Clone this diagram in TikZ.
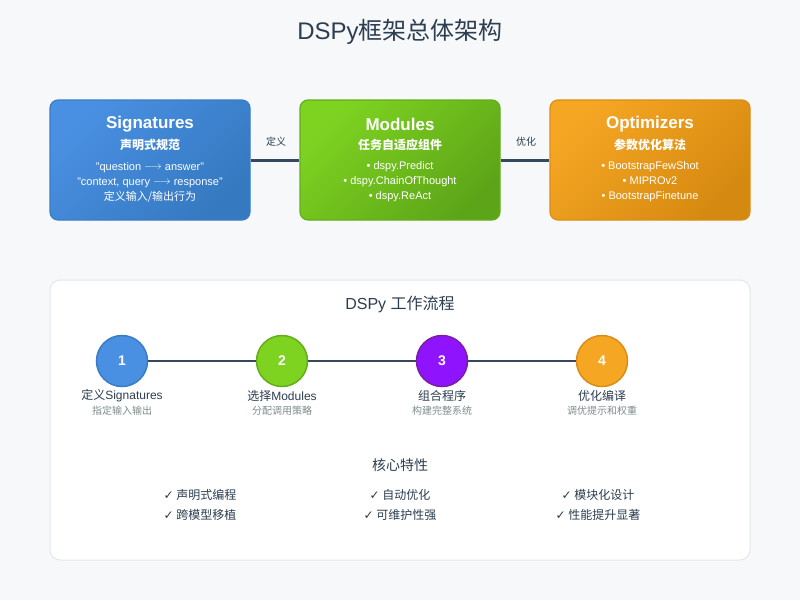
\documentclass[tikz,border=0pt]{standalone}
\usepackage{fontspec}
\setmainfont{Liberation Sans}
\newfontfamily\cjk{Noto Sans CJK SC}
\newfontfamily\sym{DejaVu Sans}
\newcommand{\myarrow}{\raisebox{0.3pt}{$\longrightarrow$}}
\definecolor{bgc}{HTML}{F6F8FA}
\definecolor{ink}{HTML}{2C3E50}
\definecolor{linec}{HTML}{34495E}
\definecolor{greyt}{HTML}{7F8C8D}
\definecolor{blueA}{HTML}{4A90E2}
\definecolor{blueB}{HTML}{3579C0}
\definecolor{blueE}{HTML}{3A7CC6}
\definecolor{greenA}{HTML}{7ED321}
\definecolor{greenB}{HTML}{5DA518}
\definecolor{greenE}{HTML}{65AD1A}
\definecolor{orA}{HTML}{F5A623}
\definecolor{orB}{HTML}{D68910}
\definecolor{orE}{HTML}{DB8E17}
\definecolor{purA}{HTML}{9013FE}
\definecolor{purE}{HTML}{7B1FA2}
\definecolor{panelE}{HTML}{E3E7EC}
\tikzset{
  bigbox/.style={rounded corners=8pt, minimum width=200pt, minimum height=120pt, line width=1.2pt, inner sep=0pt, shading angle=45},
  boxtitle/.style={text=white, font=\fontsize{17}{20}\selectfont\bfseries},
  boxsub/.style={text=white, font=\fontsize{12}{14}\selectfont\cjk\bfseries},
  boxbody/.style={text=white, font=\fontsize{11}{15}\selectfont, align=center},
  conn/.style={draw=linec, line width=3pt},
  connlbl/.style={text=ink, font=\fontsize{10}{12}\selectfont\cjk},
  stepcirc/.style={circle, minimum size=51pt, inner sep=0pt, line width=1.5pt, text=white, font=\fontsize{14}{16}\selectfont\bfseries},
  steplbl/.style={text=ink, font=\fontsize{12}{14}\selectfont},
  stepsub/.style={text=greyt, font=\fontsize{10}{12}\selectfont\cjk},
  feat/.style={text=ink, font=\fontsize{12}{14}\selectfont\cjk},
}
\begin{document}
\begin{tikzpicture}[x=1pt,y=-1pt]
\useasboundingbox (0,0) rectangle (800,600);
\fill[bgc] (0,0) rectangle (800,600);

\node (title) at (400,32) {\fontsize{24}{28}\selectfont\color{ink}DSPy{\cjk 框架总体架构}};

% top boxes
\node[bigbox, draw=blueE, top color=blueA, bottom color=blueB, shading angle=45] (sig) at (150,160) {};
\node[bigbox, draw=greenE, top color=greenA, bottom color=greenB, shading angle=45] (mod) at (400,160) {};
\node[bigbox, draw=orE, top color=orA, bottom color=orB, shading angle=45] (opt) at (650,160) {};

\draw[conn] (sig.east) -- (mod.west);
\draw[conn] (mod.east) -- (opt.west);
\node[connlbl] (l1) at (276,142) {定义};
\node[connlbl] (l2) at (526,142) {优化};

\node[boxtitle] (sigt) at (150,124) {Signatures};
\node[boxsub] (sigs) at (150,145) {声明式规范};
\node[boxbody] (sigb) at (150,182) {"question \myarrow{} answer"\\"context, query \myarrow{} response"\\{\cjk 定义输入/输出行为}};

\node[boxtitle] (modt) at (400,124) {Modules};
\node[boxsub] (mods) at (400,145) {任务自适应组件};
\node[boxbody] (modb) at (400,182) {• dspy.Predict\\• dspy.ChainOfThought\\• dspy.ReAct};

\node[boxtitle] (optt) at (650,124) {Optimizers};
\node[boxsub] (opts) at (650,145) {参数优化算法};
\node[boxbody] (optb) at (650,182) {• BootstrapFewShot\\• MIPROv2\\• BootstrapFinetune};

% panel
\node[draw=panelE, fill=white, rounded corners=10pt, line width=1pt, minimum width=700pt, minimum height=280pt] (panel) at (400,420) {};
\node[text=ink, font=\fontsize{16}{18}\selectfont] (ptitle) at (400,304) {DSPy {\cjk 工作流程}};

\node[stepcirc, draw=blueE, fill=blueA] (c1) at (122,361) {1};
\node[stepcirc, draw=greenE, fill=greenA] (c2) at (282,361) {2};
\node[stepcirc, draw=purE, fill=purA] (c3) at (442,361) {3};
\node[stepcirc, draw=orE, fill=orA] (c4) at (602,361) {4};
\draw[draw=linec, line width=2.5pt] (c1) -- (c2);
\draw[draw=linec, line width=2.5pt] (c2) -- (c3);
\draw[draw=linec, line width=2.5pt] (c3) -- (c4);

\node[steplbl] (s1) at (122,396) {{\cjk 定义}Signatures};
\node[steplbl] (s2) at (282,396) {{\cjk 选择}Modules};
\node[steplbl, font=\fontsize{12}{14}\selectfont\cjk] (s3) at (442,396) {组合程序};
\node[steplbl, font=\fontsize{12}{14}\selectfont\cjk] (s4) at (602,396) {优化编译};
\node[stepsub] (d1) at (122,411) {指定输入输出};
\node[stepsub] (d2) at (282,411) {分配调用策略};
\node[stepsub] (d3) at (442,411) {构建完整系统};
\node[stepsub] (d4) at (602,411) {调优提示和权重};

\node[text=ink, font=\fontsize{14}{16}\selectfont\cjk] (core) at (400,465) {核心特性};
\node[feat] (f1) at (200,495) {{\sym\fontsize{12}{14}\selectfont ✓} 声明式编程};
\node[feat] (f2) at (400,495) {{\sym\fontsize{12}{14}\selectfont ✓} 自动优化};
\node[feat] (f3) at (598,495) {{\sym\fontsize{12}{14}\selectfont ✓} 模块化设计};
\node[feat] (f4) at (200,515) {{\sym\fontsize{12}{14}\selectfont ✓} 跨模型移植};
\node[feat] (f5) at (400,515) {{\sym\fontsize{12}{14}\selectfont ✓} 可维护性强};
\node[feat] (f6) at (598,515) {{\sym\fontsize{12}{14}\selectfont ✓} 性能提升显著};
\end{tikzpicture}
\end{document}
